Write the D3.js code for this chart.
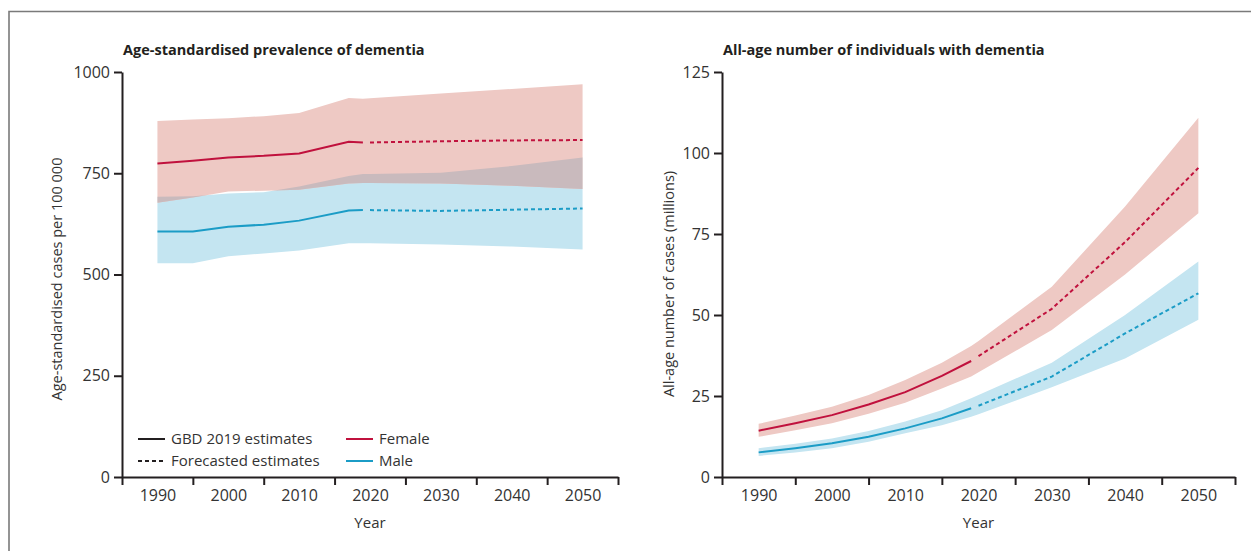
<!DOCTYPE html>
<html>
<head>
<meta charset="utf-8">
<script src="https://cdn.jsdelivr.net/npm/d3@7"></script>
<style>
  body { margin: 0; background: #fff; }
  svg { display: block; font-family: "Open Sans", sans-serif; }
</style>
</head>
<body>
<svg id="chart" width="1251" height="551"></svg>
<script>
// Dementia prevalence 1990-2050: GBD 2019 estimates (solid) + forecasts (dashed), female vs male.
const estYearsL = [1990, 1995, 2000, 2005, 2010, 2017, 2019];
const estYearsR = [1990, 1995, 2000, 2005, 2010, 2015, 2019];
const fcYears = [2020, 2030, 2040, 2050];
const xTicks = [1985, 1995, 2005, 2015, 2025, 2035, 2045, 2055];
const xLabels = [1990, 2000, 2010, 2020, 2030, 2040, 2050];

// left: age-standardised cases per 100 000
const femaleEstL = [774, 781, 789, 793, 799, 828, 826];
const femaleFcL = [826, 829, 831, 832];
const femaleHiL = [879, 883, 886, 891, 899, 936, 934, 935, 947, 958, 970];
const femaleLoL = [677, 690, 705, 707, 709, 725, 726, 726, 725, 719, 711];
const maleEstL = [606, 606, 618, 623, 633, 658, 659];
const maleFcL = [659, 657, 660, 663];
const maleHiL = [692, 693, 700, 703, 717, 743, 748, 748, 751, 768, 789];
const maleLoL = [528, 528, 545, 552, 559, 577, 577, 577, 574, 569, 562];
const yTicksL = [0, 250, 500, 750, 1000];

// right: all-age number of cases (millions)
const femaleEstR = [14.3, 16.6, 19.1, 22.4, 26.2, 31.2, 35.8];
const femaleFcR = [37.3, 51.9, 72.5, 95.4];
const femaleHiR = [16.4, 19.0, 21.7, 25.3, 29.9, 35.3, 40.4, 42.0, 58.7, 83.5, 110.9];
const femaleLoR = [12.4, 14.4, 16.6, 19.5, 22.9, 27.3, 31.0, 32.3, 45.4, 62.5, 81.4];
const maleEstR = [7.6, 8.9, 10.4, 12.4, 15.0, 18.1, 21.2];
const maleFcR = [22.0, 31.0, 44.3, 56.7];
const maleHiR = [8.9, 10.3, 11.9, 14.2, 17.1, 20.6, 24.3, 25.3, 35.3, 50.0, 66.5];
const maleLoR = [6.5, 7.6, 8.9, 10.9, 13.5, 16.0, 18.6, 19.4, 27.7, 36.6, 48.5];
const yTicksR = [0, 25, 50, 75, 100, 125];

const FEMALE = '#c0113d', MALE = '#1b9cc6';
const FEMALE_BAND = '#eec9c4', MALE_BAND = '#c4e5f1', OVERLAP = '#c9babd';
const INK = '#231f20';

const svg = d3.select('#chart');
svg.append('rect').attr('width', 1251).attr('height', 551).attr('fill', '#fff');
// figure frame: top and left rule only
svg.append('path').attr('d', 'M9,551 V11.5 H1251').attr('fill', 'none')
  .attr('stroke', '#7a7a7a').attr('stroke-width', 1.6);
const defs = svg.append('defs');

function panel(o) {
  const g = svg.append('g');
  const x = d3.scaleLinear().domain([1985, 2055]).range(o.xr);
  const y = d3.scaleLinear().domain([0, o.yMax]).range([477, 72]);
  const bandYears = o.est.concat(fcYears);
  const band = (hi, lo) => d3.area().x((d, i) => x(bandYears[i])).y0((d, i) => y(lo[i])).y1(d => y(d))(hi);

  g.append('path').attr('d', band(o.mHi, o.mLo)).attr('fill', MALE_BAND);
  g.append('path').attr('d', band(o.fHi, o.fLo)).attr('fill', FEMALE_BAND);
  // where the two bands overlap
  defs.append('clipPath').attr('id', o.id + '-clip')
    .append('path').attr('d', band(o.mHi, o.mLo));
  g.append('path').attr('d', band(o.fHi, o.fLo)).attr('fill', OVERLAP)
    .attr('clip-path', `url(#${o.id}-clip)`);

  const line = yrs => d3.line().x((d, i) => x(yrs[i])).y(d => y(d));
  [[o.fEst, o.fFc, FEMALE], [o.mEst, o.mFc, MALE]].forEach(([e, f, c]) => {
    g.append('path').attr('d', line(o.est)(e)).attr('fill', 'none').attr('stroke', c).attr('stroke-width', 2);
    g.append('path').attr('d', line(fcYears)(f)).attr('fill', 'none').attr('stroke', c)
      .attr('stroke-width', 2).attr('stroke-dasharray', '4,3');
  });

  // axes
  const ya = g.append('g').attr('transform', `translate(${o.xr[0]},0)`)
    .call(d3.axisLeft(y).tickValues(o.yTicks).tickSize(8).tickSizeOuter(0).tickPadding(4).tickFormat(d3.format('d')));
  const xa = g.append('g').attr('transform', 'translate(0,477)')
    .call(d3.axisBottom(x).tickValues(xTicks).tickSize(8).tickSizeOuter(0).tickFormat(''));
  const xl = g.append('g').attr('transform', 'translate(0,477)')
    .call(d3.axisBottom(x).tickValues(xLabels).tickSize(0).tickPadding(13).tickFormat(d3.format('d')));
  xl.select('.domain').remove();
  [ya, xa, xl].forEach(a => {
    a.selectAll('line,path').attr('stroke', INK).attr('stroke-width', 2);
    a.selectAll('text').attr('fill', '#333').style('font-size', '16px').style('font-family', '"Open Sans", sans-serif');
  });

  g.append('text').attr('x', o.xr[0] + 1).attr('y', 55).text(o.title)
    .attr('fill', INK).style('font-size', '14.5px').style('font-weight', 'bold');
  g.append('text').attr('x', (o.xr[0] + o.xr[1]) / 2).attr('y', 528).attr('text-anchor', 'middle')
    .text('Year').attr('fill', '#333').style('font-size', '15px');
  g.append('text').attr('transform', `translate(${o.labelX},${o.labelY}) rotate(-90)`)
    .attr('text-anchor', 'middle').text(o.yLabel).attr('fill', '#333').style('font-size', '14.5px');
  return g;
}

const left = panel({
  id: 'l', xr: [122, 618], yMax: 1000, yTicks: yTicksL, est: estYearsL,
  fEst: femaleEstL, fFc: femaleFcL, fHi: femaleHiL, fLo: femaleLoL,
  mEst: maleEstL, mFc: maleFcL, mHi: maleHiL, mLo: maleLoL,
  title: 'Age-standardised prevalence of dementia', yLabel: 'Age-standardised cases per 100 000',
  labelX: 62, labelY: 279
});
panel({
  id: 'r', xr: [722, 1235], yMax: 125, yTicks: yTicksR, est: estYearsR,
  fEst: femaleEstR, fFc: femaleFcR, fHi: femaleHiR, fLo: femaleLoR,
  mEst: maleEstR, mFc: maleFcR, mHi: maleHiR, mLo: maleLoR,
  title: 'All-age number of individuals with dementia', yLabel: 'All-age number of cases (millions)',
  labelX: 674, labelY: 284
});

// legend inside left panel
const legend = [
  { x: 138, y: 439, label: 'GBD 2019 estimates', color: INK, dash: null },
  { x: 138, y: 461, label: 'Forecasted estimates', color: INK, dash: '4,3' },
  { x: 346, y: 439, label: 'Female', color: FEMALE, dash: null },
  { x: 346, y: 461, label: 'Male', color: MALE, dash: null }
];
const lg = left.append('g').selectAll('g').data(legend).enter().append('g')
  .attr('transform', d => `translate(${d.x},${d.y})`);
lg.append('line').attr('x1', 0).attr('x2', 27).attr('stroke', d => d.color).attr('stroke-width', 2)
  .attr('stroke-dasharray', d => d.dash);
lg.append('text').attr('x', 33).attr('dy', '0.35em').text(d => d.label)
  .attr('fill', '#333').style('font-size', '15px');
</script>
</body>
</html>
